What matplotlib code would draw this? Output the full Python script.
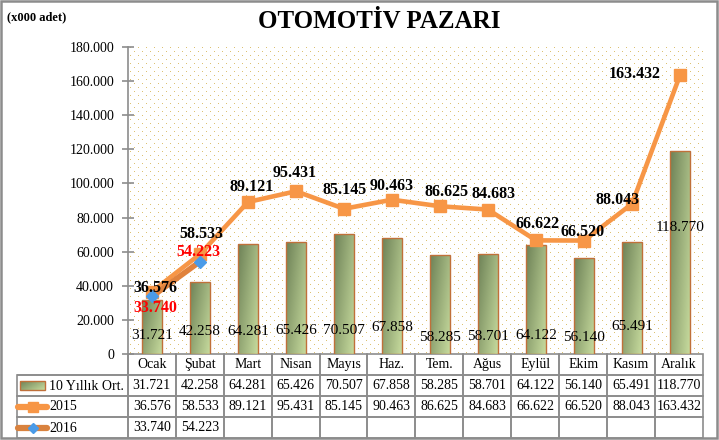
import numpy as np
import matplotlib
matplotlib.use('Agg')
import matplotlib.pyplot as plt
from matplotlib.colors import LinearSegmentedColormap
from matplotlib.lines import Line2D
from matplotlib.patches import Rectangle

plt.rcParams['font.family'] = ['Liberation Serif', 'DejaVu Serif']

# data (x000 adet)
months = ['Ocak', 'Şubat', 'Mart', 'Nisan', 'Mayıs', 'Haz.', 'Tem.',
          'Ağus', 'Eylül', 'Ekim', 'Kasım', 'Aralık']
avg_10y = [31721, 42258, 64281, 65426, 70507, 67858, 58285, 58701,
           64122, 56140, 65491, 118770]
sales_2015 = [36576, 58533, 89121, 95431, 85145, 90463, 86625, 84683,
              66622, 66520, 88043, 163432]
sales_2016 = [33740, 54223]

# where the bar value labels sit (data units)
bar_label_y = [11100, 12900, 12900, 13500, 13500, 15800, 9400, 10000,
               11100, 9400, 16400, 73900]

# label offsets in pixels (dx, dy)
off_2015 = [(3, 4), (1, 20), (4, 15), (-1, 18), (1, 19), (0, 14), (7, 14),
            (6, 16), (2, 16), (-1, 9), (-14, 4), (-45, 1)]
off_2016 = [(3, -12), (-2, 10)]


def fmt(v):
    return f'{v:,}'.replace(',', '.')


W, H = 719, 440
fig = plt.figure(figsize=(W / 100, H / 100), dpi=100)
fig.patch.set_facecolor('white')

# plot area in pixels: x 128..704, y 47..354
ax = fig.add_axes([128 / W, (H - 354) / H, 576 / W, 307 / H])
ax.set_facecolor('white')

# dotted background texture
tex = np.zeros((307, 576, 4))
for r in range(1, 307, 4):
    start = 2 if (r // 4) % 2 == 0 else 6
    tex[r, start::8] = [0.87, 0.76, 0.45, 1.0]
ax.imshow(tex, extent=(-0.5, 11.5, 0, 180000), aspect='auto',
          interpolation='nearest', zorder=0)

x = np.arange(len(months))
green = LinearSegmentedColormap.from_list('g', ['#6E8257', '#C6DA9D'])
gi, gj = np.mgrid[0:60, 0:30]
grad = 0.6 * gj / 29 + 0.4 * gi / 59

bars = ax.bar(x, avg_10y, width=0.4, facecolor='none',
              edgecolor='#C0703A', linewidth=1, zorder=3)
for b in bars:
    im = ax.imshow(grad, cmap=green, extent=[b.get_x(), b.get_x() + b.get_width(), 0, b.get_height()],
                   aspect='auto', origin='upper', interpolation='bilinear', zorder=2)
    im.set_clip_path(b)

for i, v in enumerate(avg_10y):
    ax.text(x[i], bar_label_y[i], fmt(v), ha='center', va='center',
            fontsize=11, color='black', zorder=5)

ax.plot(x, sales_2015, color='#F79646', lw=3.3, marker='s', markersize=8,
        markerfacecolor='#F79646', markeredgecolor='#F79646', zorder=6)
ax.plot(x[:len(sales_2016)], sales_2016, color='#E0823D', lw=4, marker='D',
        markersize=6.5, markerfacecolor='#4A9BE8', markeredgecolor='#4A9BE8', zorder=7)

for i, v in enumerate(sales_2015):
    ax.annotate(fmt(v), (x[i], v), xytext=off_2015[i], textcoords='offset pixels',
                ha='center', va='center', fontsize=11.5, fontweight='bold',
                color='black', zorder=8)
for i, v in enumerate(sales_2016):
    ax.annotate(fmt(v), (x[i], v), xytext=off_2016[i], textcoords='offset pixels',
                ha='center', va='center', fontsize=11.5, fontweight='bold',
                color='#FF0000', zorder=8)

ax.set_xlim(-0.5, 11.5)
ax.set_ylim(0, 180000)
ax.set_yticks(range(0, 180001, 20000))
ax.set_yticklabels([fmt(t) for t in range(0, 180001, 20000)], fontsize=10)
ax.set_xticks([])
for s in ['top', 'right', 'bottom']:
    ax.spines[s].set_visible(False)
ax.spines['left'].set_color('#8C8C8C')
ax.spines['left'].set_linewidth(1.2)
ax.tick_params(axis='y', direction='inout', length=8, color='#8C8C8C', width=1.2, pad=6)

# data table under the chart
cells = [[''] + months,
         [''] + [fmt(v) for v in avg_10y],
         [''] + [fmt(v) for v in sales_2015],
         [''] + [fmt(v) for v in sales_2016] + [''] * (12 - len(sales_2016))]
tbl = ax.table(cellText=cells, colWidths=[111] + [48] * 12, cellLoc='center',
               bbox=[(17 - 128) / 576, (354 - 438) / 307, (703 - 17) / 576, 84 / 307])
tbl.auto_set_font_size(False)
tbl.set_fontsize(10)
for (r, c), cell in tbl.get_celld().items():
    cell.set_edgecolor('#8C8C8C')
    cell.set_linewidth(1.2)
    cell.set_facecolor('none')
tbl[0, 0].visible_edges = 'BR'

# overlay in pixel coords for legend keys, titles and frame
ov = fig.add_axes([0, 0, 1, 1], zorder=10)
ov.set_xlim(0, W)
ov.set_ylim(H, 0)
ov.axis('off')
ov.patch.set_alpha(0)

ov.imshow(grad, cmap=green, extent=[20, 45, 390, 381], aspect='auto',
          origin='upper', interpolation='bilinear')
ov.add_patch(Rectangle((20, 381), 25, 9, facecolor='none', edgecolor='#C0703A', lw=1))
ov.add_line(Line2D([18, 47], [407, 407], color='#F79646', lw=4.5, solid_capstyle='round'))
ov.plot([33], [407], marker='s', markersize=7.5, color='#F79646')
ov.add_line(Line2D([18, 47], [428, 428], color='#D9823E', lw=4.5, solid_capstyle='round'))
ov.plot([33], [428], marker='D', markersize=5, color='#4A9BE8')
ov.text(49, 386, '10 Yıllık Ort.', ha='left', va='center', fontsize=10)
ov.text(49, 407, '2015', ha='left', va='center', fontsize=10)
ov.text(49, 428, '2016', ha='left', va='center', fontsize=10)

ov.text(379, 22, 'OTOMOTİV PAZARI', ha='center', va='center', fontsize=18, fontweight='bold')
ov.text(7, 17, '(x000 adet)', ha='left', va='center', fontsize=9, fontweight='bold')
ov.add_patch(Rectangle((0.8, 0.8), W - 2.6, H - 2.6, facecolor='none',
                       edgecolor='#8C8C8C', lw=1.8))
ov.set_xlim(0, W)
ov.set_ylim(H, 0)

fig.savefig('out.png', dpi=100)
